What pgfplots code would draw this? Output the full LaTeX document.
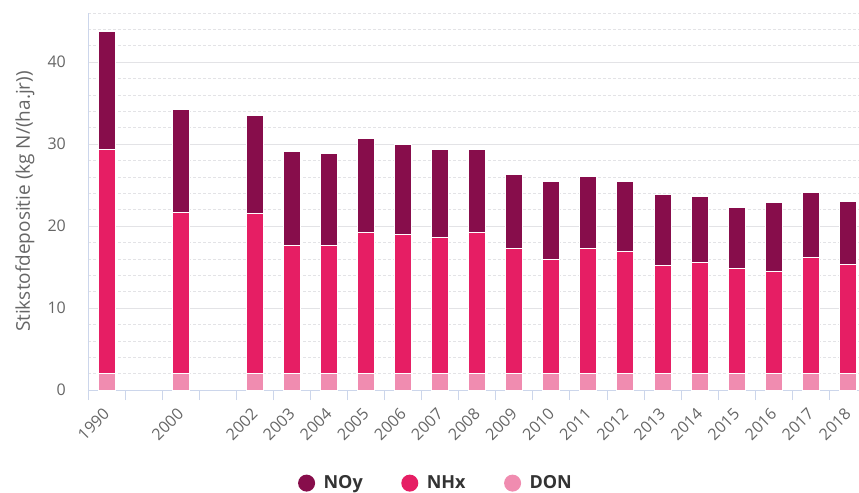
\documentclass[border=0pt]{standalone}
\usepackage{fontspec}
\setmainfont{Open Sans}
\usepackage{pgfplots}
\usepackage{pgfplotstable}
\pgfplotsset{compat=1.18}
\definecolor{noy}{HTML}{870D4B}
\definecolor{nhx}{HTML}{E61E64}
\definecolor{don}{HTML}{F08CB0}
\definecolor{gridc}{HTML}{E3E3E6}
\definecolor{axisc}{HTML}{CCD6EB}
\definecolor{labc}{HTML}{666666}
\definecolor{legc}{HTML}{333333}
\pgfplotstableread{
x don nhx noy
0 2 27.3 14.5
2 2 19.7 12.5
4 2 19.5 12.0
5 2 15.65 11.45
6 2 15.65 11.25
7 2 17.2 11.5
8 2 16.95 11.05
9 2 16.6 10.8
10 2 17.2 10.2
11 2 15.3 9.0
12 2 13.9 9.5
13 2 15.3 8.7
14 2 14.9 8.5
15 2 13.15 8.65
16 2 13.5 8.1
17 2 12.8 7.5
18 2 12.4 8.5
19 2 14.2 7.95
20 2 13.3 7.75
}\datatable
\begin{document}
\begin{tikzpicture}
\begin{axis}[
  scale only axis, width=771bp, height=377bp,
  xmin=-0.5, xmax=20.3, ymin=0, ymax=46,
  ybar stacked, bar width=17bp,
  /pgf/number format/assume math mode=true,
  axis x line*=bottom, axis y line*=left,
  x axis line style={-, draw=axisc, line width=0.8bp},
  y axis line style={-, draw=axisc, line width=0.8bp},
  xtick pos=bottom, ytick pos=left,
  xtick={0,2,4,5,6,7,8,9,10,11,12,13,14,15,16,17,18,19,20},
  xticklabels={1990,2000,2002,2003,2004,2005,2006,2007,2008,2009,2010,2011,2012,2013,2014,2015,2016,2017,2018},
  minor xtick={-0.5,0.5,1.5,2.5,3.5,4.5,5.5,6.5,7.5,8.5,9.5,10.5,11.5,12.5,13.5,14.5,15.5,16.5,17.5,18.5,19.5},
  major tick length=0pt, minor tick length=10bp, tick align=outside,
  xtick style={draw=axisc, line width=0.8bp},
  ytick={0,10,20,30,40},
  minor ytick={2,4,6,8,12,14,16,18,22,24,26,28,32,34,36,38,42,44,46},
  ytick style={draw=none},
  ymajorgrids, yminorgrids,
  major grid style={draw=gridc, solid, line width=0.8bp},
  minor grid style={draw=gridc, dash pattern=on 3bp off 2bp, line width=0.6bp},
  ticklabel style={font=\fontsize{16bp}{19bp}\selectfont, text=labc},
  xticklabel style={yshift=-21bp, rotate=45, anchor=east, inner sep=0pt},
  yticklabel style={anchor=east, inner sep=0pt, xshift=-22bp},
  ylabel={Stikstofdepositie (kg N/(ha.jr))},
  ylabel style={at={(axis description cs:-0.082,0.5)}, anchor=center, font=\fontsize{19bp}{22bp}\selectfont, text=labc},
  reverse legend,
  legend columns=3,
  legend style={draw=none, fill=none, at={(0.451,-0.247)}, anchor=center,
    font=\fontsize{18bp}{21bp}\selectfont\bfseries, text=legc,
    /tikz/every even column/.append style={column sep=36bp}},
  legend image code/.code={\fill[#1,draw=none] (8.5bp,0bp) circle (8.5bp); \path (0bp,0bp) (23bp,0bp);},
  every axis plot/.append style={draw=white, line width=1bp},
]
\addplot[fill=don] table[x=x, y=don] {\datatable};
\addlegendentry{DON}
\addplot[fill=nhx] table[x=x, y=nhx] {\datatable};
\addlegendentry{NHx}
\addplot[fill=noy] table[x=x, y=noy] {\datatable};
\addlegendentry{NOy}
\end{axis}
\pgfresetboundingbox
\useasboundingbox (current axis.south west) ++(-88bp,-103bp) rectangle ++(859bp,493bp);
\end{tikzpicture}
\end{document}
